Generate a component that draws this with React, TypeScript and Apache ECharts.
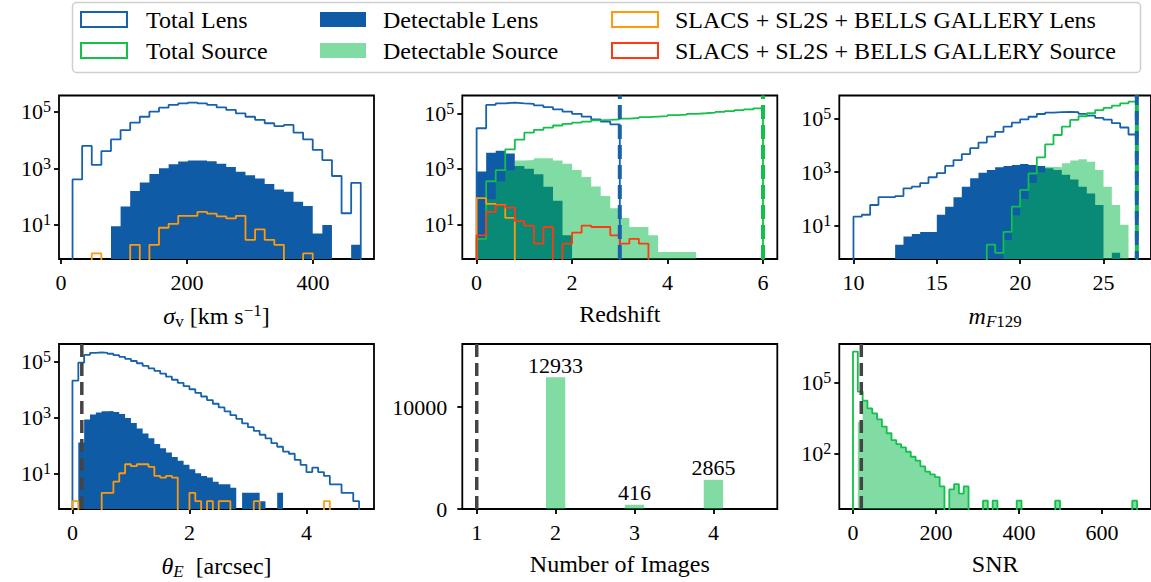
import React, { useEffect, useRef } from 'react';
import * as echarts from 'echarts';

// ---------------- data ----------------
// Panel 1: velocity dispersion histogram (30 bins)
const sigmaBinStart = 18.5;
const sigmaBinWidth = 15.25;
const sigmaTotalLens = [407, 6170, 1320, 4070, 10500, 22400, 40700, 66100, 100000, 138000, 174000, 195000, 209000, 195000, 174000, 141000, 115000, 87100, 66100, 51300, 38900, 30900, 33900, 18200, 10500, 4470, 1950, 537, 26, 309];
const sigmaDetLens = [0, 0, 0, 0, 9, 45, 160, 316, 630, 1000, 1400, 1740, 1900, 1900, 1780, 1450, 1120, 760, 575, 440, 280, 180, 150, 66, 47, 5, 10, 0, 0, 2];
const sigmaSlacsLens = [0, 0, 1, 0, 0, 0, 2, 0, 2, 8, 11, 21, 21, 29, 25, 20, 17, 21, 3, 7, 3, 2, 0, 0, 1, 0, 0, 0, 0, 0];

// Panel 2: redshift histogram (bins of 0.2)
const zBinStart = 0;
const zBinWidth = 0.2;
const zTotalLens = [28800, 200000, 229000, 240000, 229000, 219000, 191000, 166000, 138000, 115000, 95500, 75900, 60300, 50100, 39800];
const zTotalSource = [3, 355, 890, 5000, 11200, 20000, 25100, 30200, 36300, 41700, 45700, 50100, 55000, 57500, 60300, 64600, 67600, 72400, 75900, 79400, 85100, 89100, 95500, 100000, 105000, 112000, 120000, 129000, 138000, 151000];
const zDetLens = [800, 3800, 4470, 3550, 1260, 1000, 630, 224, 71, 4];
const zDetSource = [3, 80, 355, 890, 2000, 2090, 2400, 2400, 2000, 1510, 912, 501, 229, 105, 38, 17, 8, 8, 4, 1, 1, 1, 1];
const zSlacsLens = [87, 54, 50, 17];
const zSlacsSource = [4, 28, 48, 40, 13, 9, 2, 8, 0, 2, 5, 9, 8, 8, 4, 2, 3, 2];
const zLensLimit = 3;
const zSourceLimit = 6;

// Panel 3: F129 magnitude histogram (bins of 0.5)
const mBinStart = 10;
const mBinWidth = 0.5;
const mTotalLens = [22, 26, 60, 117, 117, 129, 251, 288, 389, 646, 912, 1700, 2820, 4680, 7760, 12600, 20900, 31600, 49000, 69200, 91200, 115000, 145000, 162000, 170000, 174000, 170000, 148000, 126000, 105000, 89100, 66100, 45700, 25100];
const mTotalSource = [0, 0, 0, 0, 0, 0, 0, 0, 0, 0, 0, 0, 0, 0, 0, 0, 2, 1, 6, 52, 219, 891, 3550, 10700, 24000, 49000, 87100, 120000, 155000, 204000, 245000, 295000, 363000, 417000];
const mDetLens = [0, 0, 0, 0, 0, 2, 4, 5, 6, 6, 26, 52, 117, 288, 589, 955, 1200, 1510, 1700, 1860, 2000, 1860, 1700, 1410, 1200, 794, 537, 288, 162, 60, 0, 1, 0, 0];
const mDetSource = [0, 0, 0, 0, 0, 0, 0, 0, 0, 0, 0, 0, 0, 0, 0, 0, 0, 0, 3, 25, 100, 400, 1000, 1580, 1510, 2140, 2690, 3020, 2450, 1200, 288, 60, 11, 0];
const magLimit = 27;

// Panel 4: Einstein radius histogram (bins of 0.1)
const tBinStart = 0;
const tBinWidth = 0.1;
const tTotalLens = [20900, 91200, 174000, 204000, 214000, 204000, 191000, 170000, 148000, 126000, 105000, 87100, 70800, 57500, 46800, 37200, 28800, 22400, 17400, 13200, 10200, 7590, 5620, 4170, 3090, 2290, 1660, 1200, 891, 617, 447, 331, 240, 178, 120, 89, 60, 50, 30, 20, 11, 16, 11, 8, 4, 4, 2, 2, 1];
const tDetLens = [0, 126, 851, 1260, 1510, 1660, 1700, 1580, 1320, 955, 631, 398, 263, 178, 112, 79, 56, 38, 28, 20, 14, 10, 8, 7, 5, 4, 4, 3, 0, 2, 2, 2, 1, 0, 0, 2];
const tSlacsLens = [1, 0, 0, 0, 0, 2, 2, 5, 10, 21, 18, 21, 21, 17, 8, 7, 8, 7, 0, 0, 2, 1, 0, 1, 0, 1, 1, 0, 0, 0, 0, 1, 0, 0, 0, 0, 0, 0, 0, 0, 0, 0, 0, 1];
const thetaCut = 0.16;

// Panel 5: number of images
const imgNumbers = [2, 3, 4];
const imgCounts = [12933, 416, 2865];
const imgCut = 1;

// Panel 6: SNR histogram (bins of 11.6)
const snrBinStart = 0;
const snrBinWidth = 11.6;
const snrTotal = [2000000, 40700, 17000, 7940, 4900, 2750, 1350, 708, 363, 245, 178, 117, 72, 49, 28, 17, 13, 10, 4, 0, 3, 5, 2, 4, 0, 0, 0, 1, 0, 1, 0, 0, 0, 0, 1, 0, 0, 0, 0, 0, 0, 0, 1, 0, 0, 0, 0, 0, 0, 0, 0, 0, 0, 0, 0, 0, 0, 0, 1];
const snrDet = [0, 2190, 17000, 7940, 4900, 2750, 1350, 708, 363, 245, 178, 117, 72, 49, 28, 17, 13, 10, 4, 0, 3, 5, 2, 4, 0, 0, 0, 1, 0, 1, 0, 0, 0, 0, 1, 0, 0, 0, 0, 0, 0, 0, 1, 0, 0, 0, 0, 0, 0, 0, 0, 0, 0, 0, 0, 0, 0, 0, 1];
const snrCut = 20;

// ---------------- styling ----------------
const FONT = 'Liberation Serif';
const BLUE = '#1762ab';
const BLUE_FILL = '#0f5ba6';
const GREEN = '#12c04a';
const GREEN_FILL = 'rgba(2,186,72,0.5)';
const ORANGE = '#ff9a0a';
const RED = '#ff3a12';
const GREY = '#444444';
const FLOOR = -6;

const panels = [
  { left: 59, top: 95.5, width: 315, height: 163.5, x: [-3, 497], y: [-0.2, 5.57] },
  { left: 462.3, top: 95.5, width: 315, height: 163.5, x: [-0.3, 6.3], y: [-0.25, 5.64] },
  { left: 839.3, top: 95.5, width: 315, height: 163.5, x: [9.15, 27.85], y: [-0.23, 5.85] },
  { left: 59, top: 344, width: 315, height: 165, x: [-0.23, 5.155], y: [-0.28, 5.63] },
  { left: 462.3, top: 344, width: 315, height: 165, x: [0.817, 4.81], y: [0, 16200] },
  { left: 839.3, top: 344, width: 315, height: 165, x: [-33, 718], y: [-0.35, 6.62] },
];

function stepPoints(start: number, width: number, counts: number[]) {
  const pts: number[][] = [[start, FLOOR]];
  counts.forEach((c, i) => pts.push([start + i * width, c > 0 ? Math.log10(c) : FLOOR]));
  pts.push([start + counts.length * width, FLOOR]);
  return pts;
}

const outline = (gi: number, pts: number[][], color: string, z = 4) => ({
  type: 'line', xAxisIndex: gi, yAxisIndex: gi, data: pts, step: 'end', symbol: 'none', showSymbol: false,
  silent: true, clip: true, z, lineStyle: { color, width: 1.8 }, itemStyle: { color },
});

const filled = (gi: number, pts: number[][], color: string, z = 2) => ({
  type: 'line', xAxisIndex: gi, yAxisIndex: gi, data: pts, step: 'end', symbol: 'none', showSymbol: false,
  silent: true, clip: true, z, lineStyle: { color, width: 0, opacity: 0 }, itemStyle: { color },
  areaStyle: { color, opacity: 1, origin: 'start' },
});

const vline = (gi: number, x: number, color: string, width: number, dash: number[], offset = 0, z = 6) => ({
  type: 'line', xAxisIndex: gi, yAxisIndex: gi,
  data: [[x, panels[gi].y[0]], [x, panels[gi].y[1]]],
  symbol: 'none', silent: true, z,
  lineStyle: { color, width, type: dash, dashOffset: offset },
});

const nameRich = {
  r: { fontSize: 24, fontFamily: FONT, color: '#000', lineHeight: 28 },
  i: { fontSize: 24, fontFamily: FONT, color: '#000', fontStyle: 'italic', lineHeight: 28 },
  s: { fontSize: 17, fontFamily: FONT, color: '#000', verticalAlign: 'bottom', lineHeight: 17 },
  si: { fontSize: 17, fontFamily: FONT, color: '#000', fontStyle: 'italic', verticalAlign: 'bottom', lineHeight: 17 },
  p: { fontSize: 17, fontFamily: FONT, color: '#000', verticalAlign: 'top', lineHeight: 17 },
};

const tickStyle = { color: '#000', width: 1.8 };

function xAxisCfg(gi: number, ticks: number[], name: string) {
  return {
    gridIndex: gi, type: 'value', min: panels[gi].x[0], max: panels[gi].x[1],
    axisLine: { show: false, onZero: false }, splitLine: { show: false },
    axisTick: { show: true, customValues: ticks, length: 5, lineStyle: tickStyle },
    axisLabel: {
      show: true, customValues: ticks, margin: 12, color: '#000', fontSize: 22, fontFamily: FONT,
      formatter: (v: number) => String(v),
    },
    name, nameLocation: 'middle', nameGap: 43,
    nameTextStyle: { color: '#000', fontSize: 24, fontFamily: FONT, rich: nameRich },
  };
}

function yLogCfg(gi: number, ticks: number[]) {
  return {
    gridIndex: gi, type: 'value', min: panels[gi].y[0], max: panels[gi].y[1],
    axisLine: { show: false, onZero: false }, splitLine: { show: false },
    axisTick: { show: true, customValues: ticks, length: 5, lineStyle: tickStyle },
    axisLabel: {
      show: true, customValues: ticks, margin: 8,
      formatter: (v: number) => `{b|10}{s|${Math.round(v)}}`,
      rich: {
        b: { fontSize: 22, fontFamily: FONT, color: '#000', lineHeight: 26 },
        s: { fontSize: 16, fontFamily: FONT, color: '#000', verticalAlign: 'top', lineHeight: 16 },
      },
    },
  };
}

function legendGraphics() {
  const rowY = [19.5, 50.5];
  const hx = [81, 320, 612];
  const tx = [146, 383, 675];
  const items = [
    { c: 0, r: 0, text: 'Total Lens', stroke: BLUE, fill: '#fff' },
    { c: 0, r: 1, text: 'Total Source', stroke: GREEN, fill: '#fff' },
    { c: 1, r: 0, text: 'Detectable Lens', stroke: BLUE_FILL, fill: BLUE_FILL },
    { c: 1, r: 1, text: 'Detectable Source', stroke: '#80dca3', fill: GREEN_FILL },
    { c: 2, r: 0, text: 'SLACS + SL2S + BELLS GALLERY Lens', stroke: ORANGE, fill: '#fff' },
    { c: 2, r: 1, text: 'SLACS + SL2S + BELLS GALLERY Source', stroke: RED, fill: '#fff' },
  ];
  const els: any[] = [
    {
      type: 'rect', shape: { x: 72.5, y: 2.5, width: 1068, height: 70, r: 4 },
      style: { fill: '#fff', stroke: '#cfcfcf', lineWidth: 1.5 }, z: 10,
    },
  ];
  items.forEach((it) => {
    els.push({
      type: 'rect', shape: { x: hx[it.c], y: rowY[it.r] - 7.5, width: 46, height: 15 },
      style: { fill: it.fill, stroke: it.stroke, lineWidth: it.fill === '#fff' ? 2 : 0 }, z: 11,
    });
    els.push({
      type: 'text', x: tx[it.c], y: rowY[it.r],
      style: { text: it.text, fontSize: 24, fontFamily: FONT, fill: '#000', verticalAlign: 'middle', align: 'left' },
      z: 11,
    });
  });
  return els;
}

export default function App() {
  const ref = useRef<HTMLDivElement>(null);
  useEffect(() => {
    if (!ref.current) return;
    const chart = echarts.init(ref.current, undefined, { renderer: 'svg' });
    const grid = panels.map((p) => ({
      left: p.left, top: p.top, width: p.width, height: p.height,
      show: true, borderColor: '#000', borderWidth: 1.8, backgroundColor: 'transparent',
    }));
    const xAxis = [
      xAxisCfg(0, [0, 200, 400], '{i|σ}{s|v}{r| [km s}{p|−1}{r|]}'),
      xAxisCfg(1, [0, 2, 4, 6], 'Redshift'),
      xAxisCfg(2, [10, 15, 20, 25], '{i|m}{si|F}{s|129}'),
      xAxisCfg(3, [0, 2, 4], '{i|θ}{si|E}{r|  [arcsec]}'),
      xAxisCfg(4, [1, 2, 3, 4], 'Number of Images'),
      xAxisCfg(5, [0, 200, 400, 600], 'SNR'),
    ];
    const yAxis: any[] = [
      yLogCfg(0, [1, 3, 5]),
      yLogCfg(1, [1, 3, 5]),
      yLogCfg(2, [1, 3, 5]),
      yLogCfg(3, [1, 3, 5]),
      {
        gridIndex: 4, type: 'value', min: panels[4].y[0], max: panels[4].y[1],
        axisLine: { show: false, onZero: false }, splitLine: { show: false },
        axisTick: { show: true, customValues: [0, 10000], length: 5, lineStyle: tickStyle },
        axisLabel: {
          show: true, customValues: [0, 10000], margin: 15, color: '#000', fontSize: 22, fontFamily: FONT,
          formatter: (v: number) => String(v),
        },
      },
      yLogCfg(5, [2, 5]),
    ];

    const series: any[] = [
      // panel 1
      filled(0, stepPoints(sigmaBinStart, sigmaBinWidth, sigmaDetLens), BLUE_FILL),
      outline(0, stepPoints(sigmaBinStart, sigmaBinWidth, sigmaTotalLens), BLUE),
      outline(0, stepPoints(sigmaBinStart, sigmaBinWidth, sigmaSlacsLens), ORANGE, 5),
      // panel 2
      filled(1, stepPoints(zBinStart, zBinWidth, zDetLens), BLUE_FILL),
      filled(1, stepPoints(zBinStart, zBinWidth, zDetSource), GREEN_FILL, 3),
      outline(1, stepPoints(zBinStart, zBinWidth, zTotalLens), BLUE),
      outline(1, stepPoints(zBinStart, zBinWidth, zTotalSource), GREEN),
      outline(1, stepPoints(zBinStart, zBinWidth, zSlacsLens), ORANGE, 5),
      outline(1, stepPoints(zBinStart, zBinWidth, zSlacsSource), RED, 5),
      vline(1, zLensLimit, BLUE, 4, [14, 6]),
      vline(1, zSourceLimit, GREEN, 4, [14, 6]),
      // panel 3
      filled(2, stepPoints(mBinStart, mBinWidth, mDetLens), BLUE_FILL),
      filled(2, stepPoints(mBinStart, mBinWidth, mDetSource), GREEN_FILL, 3),
      outline(2, stepPoints(mBinStart, mBinWidth, mTotalLens), BLUE),
      outline(2, stepPoints(mBinStart, mBinWidth, mTotalSource), GREEN),
      vline(2, magLimit, GREEN, 4, [14, 6], 0, 6),
      vline(2, magLimit, BLUE, 4, [14, 6], 6, 7),
      // panel 4
      filled(3, stepPoints(tBinStart, tBinWidth, tDetLens), BLUE_FILL),
      outline(3, stepPoints(tBinStart, tBinWidth, tTotalLens), BLUE),
      outline(3, stepPoints(tBinStart, tBinWidth, tSlacsLens), ORANGE, 5),
      vline(3, thetaCut, GREY, 3.5, [13, 6]),
      // panel 5
      {
        type: 'bar', xAxisIndex: 4, yAxisIndex: 4, barWidth: 19.3, silent: true,
        data: imgNumbers.map((n, i) => [n, imgCounts[i]]),
        itemStyle: { color: GREEN_FILL },
        label: {
          show: true, position: 'top', distance: 1, color: '#000', fontSize: 22, fontFamily: FONT,
          formatter: (p: any) => String(p.value[1]),
        },
      },
      vline(4, imgCut, GREY, 3.5, [13, 6]),
      // panel 6
      filled(5, stepPoints(snrBinStart, snrBinWidth, snrDet), GREEN_FILL),
      outline(5, stepPoints(snrBinStart, snrBinWidth, snrTotal), GREEN),
      vline(5, snrCut, GREY, 3.5, [13, 6]),
    ];

    chart.setOption({
      animation: false,
      backgroundColor: '#fff',
      textStyle: { fontFamily: FONT },
      grid, xAxis, yAxis, series,
      graphic: legendGraphics(),
    });
    return () => chart.dispose();
  }, []);
  return (
    <div
      ref={ref}
      style={{ position: 'absolute', left: 0, top: 0, width: 1151, height: 582, background: '#fff' }}
    />
  );
}
